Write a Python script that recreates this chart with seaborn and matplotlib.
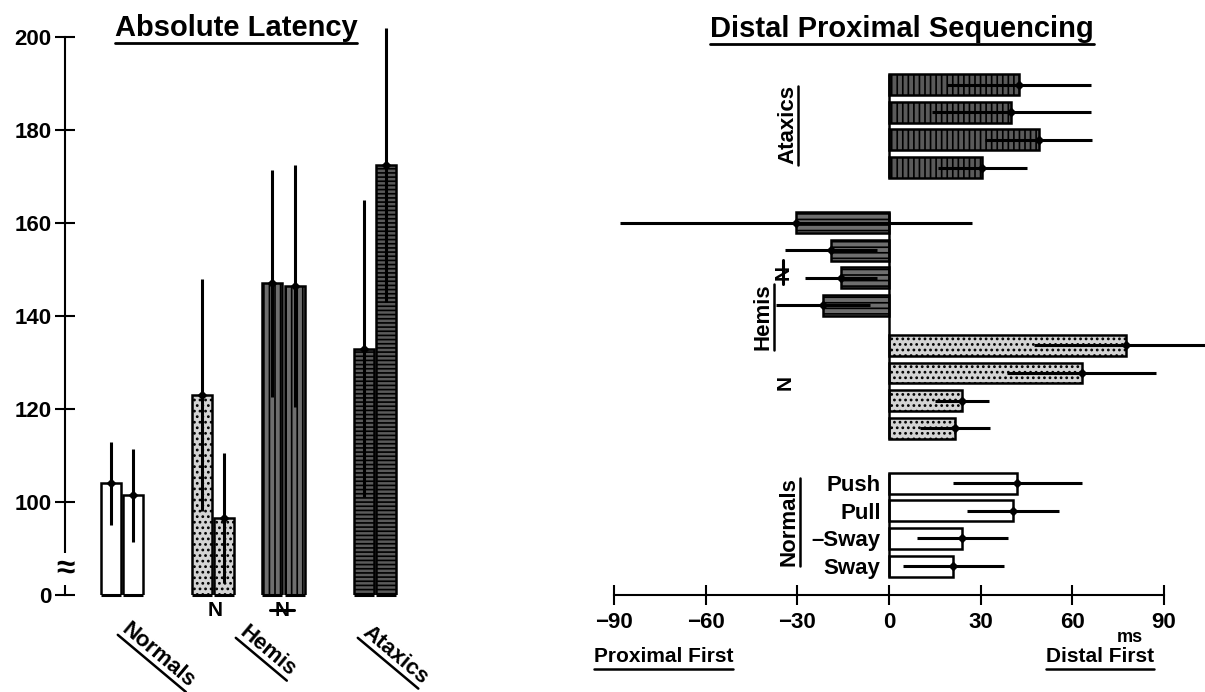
import numpy as np
import pandas as pd
import matplotlib
matplotlib.use("Agg")
import matplotlib.pyplot as plt
from matplotlib.lines import Line2D
import seaborn as sns

# ---------------- data ----------------
# Absolute latency (ms), two bars per group
lat_groups = ["Normals", "Normals", "Hemis N", "Hemis N",
              "Hemis notN", "Hemis notN", "Ataxics", "Ataxics"]
lat_means = [104, 101.5, 123, 96.5, 147, 146.5, 133, 172.5]
lat_sd = [9, 10, 25, 14, 24.5, 26, 32, 29.5]
lat_yticks = [80, 100, 120, 140, 160, 180, 200]
lat_yticklabels = ["0", "100", "120", "140", "160", "180", "200"]

# Distal-proximal sequencing (ms), four conditions per group
seq_groups = (["Ataxics"] * 4 + ["Hemis notN"] * 4 +
              ["Hemis N"] * 4 + ["Normals"] * 4)
conditions = ["Push", "Pull", "\u2013Sway", "Sway"]
seq_means = [42.5, 40, 49, 30.5,
             -30.5, -19, -15.8, -21.7,
             77.5, 63, 24, 21.5,
             42, 40.5, 24, 21]
seq_sd = [23.5, 26, 17.5, 14.5,
          57.5, 15, 11.8, 15.4,
          30, 24.3, 8.8, 11.5,
          21, 15, 15, 16.5]
seq_xticks = [-90, -60, -30, 0, 30, 60, 90]

# ---------------- layout / style ----------------
W, H = 1205, 692
sns.set_style("white")
plt.rcParams["font.family"] = ["Liberation Sans", "DejaVu Sans"]
plt.rcParams["font.weight"] = "bold"
plt.rcParams["hatch.linewidth"] = 1.2
for k in ["text.color", "axes.labelcolor", "xtick.color", "ytick.color",
          "axes.edgecolor"]:
    plt.rcParams[k] = "black"

fig = plt.figure(figsize=(W / 100, H / 100), dpi=100)


def fx(x):
    return x / W


def fy(y):
    return 1 - y / H


def ptxt(x, y, s, **kw):
    return fig.text(fx(x), fy(y), s, **kw)


def pline(xs, ys, lw=1.8):
    fig.add_artist(Line2D([fx(v) for v in xs], [fy(v) for v in ys],
                          color="black", lw=lw))


styles = {
    "Normals": dict(face="white", hatch_l=None, hatch_r=None),
    "Hemis N": dict(face="#d4d4d4", hatch_l="...", hatch_r="..."),
    "Hemis notN": dict(face="#6e6e6e", hatch_l="|||", hatch_r="---"),
    "Ataxics": dict(face="#5a5a5a", hatch_l="----", hatch_r="|||"),
}
hue_order = ["Normals", "Hemis N", "Hemis notN", "Ataxics"]
pal = {g: styles[g]["face"] for g in hue_order}

# ---------------- left panel ----------------
GROUP_X = {"Normals": 0.0, "Hemis N": 4.04, "Hemis notN": 7.18, "Ataxics": 11.25}
PAIR_OFF = [-0.5, 0.5]
LBW = 0.89
lat_pos = [GROUP_X[g] + PAIR_OFF[i % 2] for i, g in enumerate(lat_groups)]
df_l = pd.DataFrame({"group": lat_groups, "pos": lat_pos, "value": lat_means})

axL = fig.add_axes([fx(65), fy(595), fx(440) - fx(65), fy(37) - fy(595)])
sns.barplot(data=df_l, x="pos", y="value", hue="group", hue_order=hue_order,
            palette=pal, native_scale=True, width=LBW, errorbar=None,
            edgecolor="black", linewidth=1.8, saturation=1, legend=False, ax=axL)
for g, cont in zip(hue_order, axL.containers):
    for p in cont:
        if styles[g]["hatch_l"]:
            p.set_hatch(styles[g]["hatch_l"])
axL.errorbar(lat_pos, lat_means, yerr=lat_sd, fmt="D", ms=4, color="black",
             elinewidth=2.2, capsize=0, clip_on=False, zorder=5)
# bottom edges of the bars at the broken-axis baseline
axL.hlines([80] * len(lat_pos), [p - LBW / 2 for p in lat_pos],
           [p + LBW / 2 for p in lat_pos], color="black", lw=2.2, clip_on=False)
axL.set_ylim(80, 200)
axL.set_xlim(-2.533, 14.13)
axL.set_xticks([])
axL.set_yticks(lat_yticks)
axL.set_yticklabels(lat_yticklabels)
axL.set_xlabel("")
axL.set_ylabel("")
for s in ["top", "right", "bottom"]:
    axL.spines[s].set_visible(False)
axL.spines["left"].set_linewidth(1.5)
axL.tick_params(axis="y", left=True, direction="inout", length=15, width=1.5,
                pad=2, labelsize=16)
for lab in axL.get_yticklabels():
    lab.set_fontweight("bold")
# axis break symbol
ptxt(65, 569, "\u2248", fontsize=24, ha="center", va="center",
     bbox=dict(facecolor="white", edgecolor="none", pad=0.3), zorder=10)

# ---------------- right panel ----------------
GROUP_Y = {"Ataxics": 0.0, "Hemis notN": 5.0, "Hemis N": 9.45, "Normals": 14.45}
seq_pos = [GROUP_Y[g] + (i % 4) for i, g in enumerate(seq_groups)]
df_r = pd.DataFrame({"group": seq_groups, "pos": seq_pos, "value": seq_means})

axR = fig.add_axes([fx(614), fy(595), fx(1164) - fx(614), fy(60) - fy(595)])
BW = 0.76
sns.barplot(data=df_r, x="value", y="pos", hue="group", hue_order=hue_order,
            palette=pal, orient="y", native_scale=True, width=BW, errorbar=None,
            edgecolor="black", linewidth=1.8, saturation=1, legend=False, ax=axR)
for g, cont in zip(hue_order, axR.containers):
    for p in cont:
        if styles[g]["hatch_r"]:
            p.set_hatch(styles[g]["hatch_r"])
axR.errorbar(seq_means, seq_pos, xerr=seq_sd, fmt="D", ms=4, color="black",
             elinewidth=2.2, capsize=0, clip_on=False, zorder=5)
axR.set_xlim(-90, 90)
axR.set_ylim(18.5, -0.9)
axR.set_xlabel("")
axR.set_ylabel("")

# zero lines spanning each block of bars
blocks = [["Ataxics"], ["Hemis notN", "Hemis N"], ["Normals"]]
for blk in blocks:
    ps = [p for p, g in zip(seq_pos, seq_groups) if g in blk]
    axR.vlines(0, min(ps) - BW / 2, max(ps) + BW / 2, color="black", lw=1.8)

norm_pos = [p for p, g in zip(seq_pos, seq_groups) if g == "Normals"]
axR.set_yticks(norm_pos)
axR.set_yticklabels(conditions)
axR.spines["left"].set_position(("data", 0))
axR.spines["left"].set_visible(False)
for s in ["top", "right"]:
    axR.spines[s].set_visible(False)
axR.spines["bottom"].set_linewidth(1.5)
axR.set_xticks(seq_xticks)
axR.set_xticklabels([str(v).replace("-", "\u2212") for v in seq_xticks])
axR.tick_params(axis="x", bottom=True, direction="inout", length=15, width=1.5,
                pad=5, labelsize=16)
axR.tick_params(axis="y", left=False, length=0, pad=6, labelsize=16)
for lab in axR.get_xticklabels() + axR.get_yticklabels():
    lab.set_fontweight("bold")

# ---------------- texts ----------------
titles = [
    ptxt(236, 36, "Absolute Latency", fontsize=21, fontweight="bold",
         ha="center", va="baseline"),
    ptxt(902, 37, "Distal Proximal Sequencing", fontsize=21, fontweight="bold",
         ha="center", va="baseline"),
]
rot_left = [
    ptxt(121, 631, "Normals", fontsize=16, rotation=-40, rotation_mode="anchor",
         ha="left", va="baseline"),
    ptxt(239, 634, "Hemis", fontsize=16, rotation=-40, rotation_mode="anchor",
         ha="left", va="baseline"),
    ptxt(361, 634, "Ataxics", fontsize=16, rotation=-40, rotation_mode="anchor",
         ha="left", va="baseline"),
]
rot_right = [
    ptxt(793, 125, "Ataxics", fontsize=16, rotation=90, rotation_mode="anchor",
         ha="center", va="baseline"),
    ptxt(769, 317, "Hemis", fontsize=16, rotation=90, rotation_mode="anchor",
         ha="center", va="baseline"),
    ptxt(795, 522, "Normals", fontsize=16, rotation=90, rotation_mode="anchor",
         ha="center", va="baseline"),
]
bottom = [
    ptxt(594, 662, "Proximal First", fontsize=15, ha="left", va="baseline"),
    ptxt(1154, 662, "Distal First", fontsize=15, ha="right", va="baseline"),
]
ptxt(1130, 637, "ms", fontsize=13, ha="center", va="center")
# "N" and struck-through "N" (non-N side)
ptxt(215, 610, "N", fontsize=15, ha="center", va="center")
ptxt(282, 610, "N", fontsize=15, ha="center", va="center")
pline([270, 294], [610, 610], lw=2.2)
ptxt(785, 383, "N", fontsize=15, ha="center", va="center", rotation=90)
ptxt(783, 272, "N", fontsize=15, ha="center", va="center", rotation=90)
pline([783, 783], [260, 284], lw=2.2)

fig.canvas.draw()
renderer = fig.canvas.get_renderer()


def underline(t, off, lw=1.8):
    rot = t.get_rotation()
    t.set_rotation(0)
    w = t.get_window_extent(renderer).width
    t.set_rotation(rot)
    px, py = t.get_transform().transform(t.get_position())
    th = np.deg2rad(rot)
    ux, uy = np.cos(th), np.sin(th)
    nx, ny = uy, -ux
    a = {"left": 0.0, "center": -w / 2, "right": -w}[t.get_horizontalalignment()]
    x0, y0 = px + a * ux + off * nx, py + a * uy + off * ny
    x1, y1 = x0 + w * ux, y0 + w * uy
    inv = fig.transFigure.inverted()
    (a0, b0), (a1, b1) = inv.transform([(x0, y0), (x1, y1)])
    fig.add_artist(Line2D([a0, a1], [b0, b1], color="black", lw=lw))


for t in titles:
    underline(t, 7, lw=2.0)
for t in rot_left + rot_right:
    underline(t, 5)
for t in bottom:
    underline(t, 7)

fig.savefig("out.png", dpi=100)
